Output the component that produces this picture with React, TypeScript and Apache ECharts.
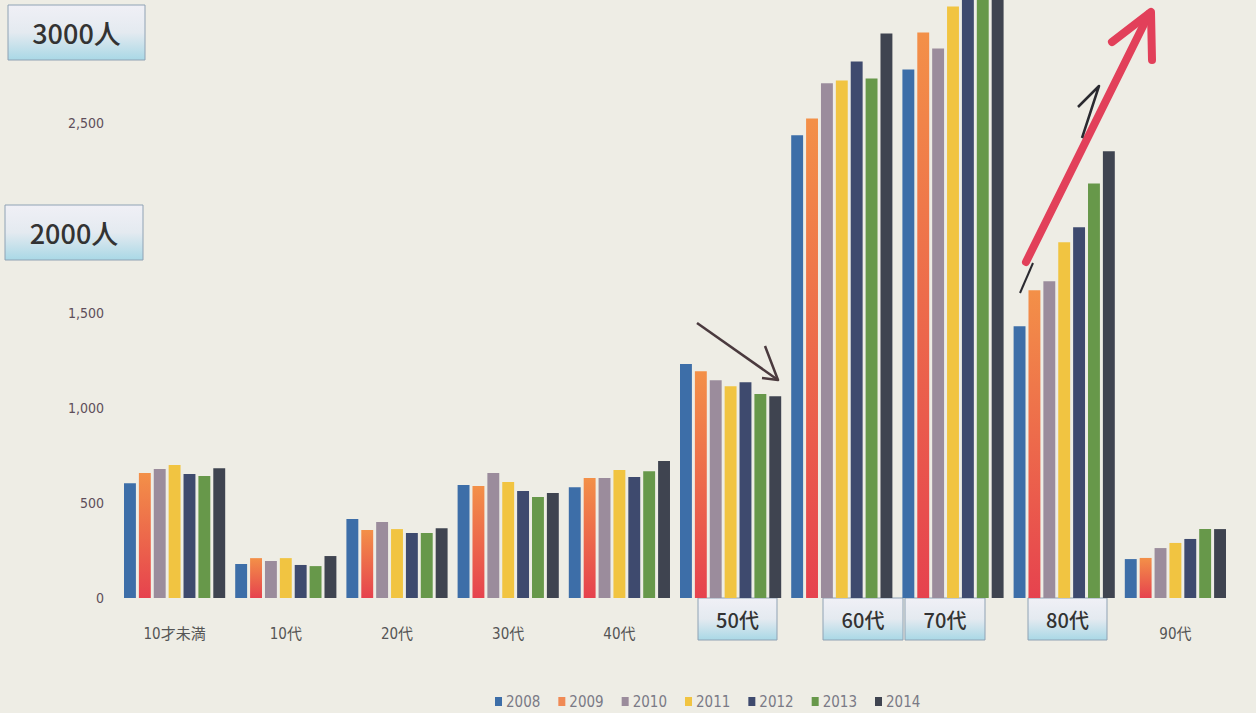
import React, { useEffect, useRef } from "react";
import * as echarts from "echarts";

const categories = ["10才未満", "10代", "20代", "30代", "40代", "50代", "60代", "70代", "80代", "90代"];
const years = ["2008", "2009", "2010", "2011", "2012", "2013", "2014"];
const v2008 = [605, 179, 416, 595, 584, 1232, 2437, 2784, 1432, 205];
const v2009 = [658, 210, 358, 590, 632, 1195, 2526, 2979, 1621, 211];
const v2010 = [679, 195, 400, 658, 632, 1147, 2711, 2895, 1668, 263];
const v2011 = [700, 210, 363, 611, 674, 1116, 2726, 3116, 1874, 290];
const v2012 = [653, 174, 342, 563, 637, 1137, 2826, 3260, 1953, 311];
const v2013 = [642, 168, 342, 532, 668, 1074, 2737, 3220, 2184, 363];
const v2014 = [684, 221, 368, 553, 721, 1063, 2974, 3300, 2353, 363];
const seriesValues = [v2008, v2009, v2010, v2011, v2012, v2013, v2014];
const hiddenCats = ["50代", "60代", "70代", "80代"];
const yTicks = [0, 500, 1000, 1500, 2500];

const colors: any[] = [
  "#3d6ea8",
  new echarts.graphic.LinearGradient(0, 0, 0, 1, [
    { offset: 0, color: "#f39048" },
    { offset: 1, color: "#e6424e" },
  ]),
  "#9b8c9c",
  "#f1c441",
  "#3e4a6e",
  "#67984a",
  "#3f4450",
];
const legendColors = ["#3d6ea8", "#f08a55", "#9b8c9c", "#f1c441", "#3e4a6e", "#67984a", "#3f4450"];

const NARROW = '"Liberation Sans Narrow","DejaVu Sans Condensed","Noto Sans CJK JP",sans-serif';
const JP = '"Noto Sans CJK JP","Noto Sans",sans-serif';

function box(x: number, y: number, w: number, h: number, label: string, size: number) {
  return {
    type: "group",
    x,
    y,
    children: [
      {
        type: "rect",
        shape: { x: 0, y: 0, width: w, height: h },
        style: {
          fill: new echarts.graphic.LinearGradient(0, 0, 0, 1, [
            { offset: 0, color: "#f0f0f6" },
            { offset: 0.5, color: "#e4eaf0" },
            { offset: 1, color: "#a9d8e6" },
          ]),
          stroke: "#8fa2b4",
          lineWidth: 1,
        },
      },
      {
        type: "text",
        x: w / 2,
        y: h / 2,
        style: {
          text: label,
          fill: "#333",
          font: `500 ${size}px ${JP}`,
          align: "center",
          verticalAlign: "middle",
        },
      },
    ],
  };
}

export default function App() {
  const ref = useRef<HTMLDivElement>(null);
  useEffect(() => {
    const chart = echarts.init(ref.current!, null, { renderer: "svg" });
    const option: any = {
      animation: false,
      backgroundColor: "#eeede5",
      grid: { left: 119, right: 25, top: 0, bottom: 115 },
      legend: {
        data: years.map((y, i) => ({ name: y, itemStyle: { color: legendColors[i] } })),
        left: 490,
        top: 689,
        icon: "rect",
        itemWidth: 7,
        itemHeight: 9,
        itemGap: 18,
        textStyle: { fontSize: 15, color: "#7a7a86", fontFamily: NARROW, padding: [0, 0, 0, -1] },
      },
      xAxis: {
        type: "category",
        data: categories,
        axisLine: { show: false },
        axisTick: { show: false },
        axisLabel: {
          margin: 28,
          fontSize: 15,
          color: "#555",
          fontFamily: NARROW,
          formatter: (v: string) => (hiddenCats.includes(v) ? "" : v),
        },
      },
      yAxis: {
        type: "value",
        min: 0,
        max: 3150,
        interval: 500,
        splitLine: { show: false },
        axisLine: { show: false },
        axisTick: { show: false },
        axisLabel: {
          margin: 15,
          fontSize: 14,
          color: "#5e4e5a",
          fontFamily: NARROW,
          formatter: (v: number) => (yTicks.includes(v) ? v.toLocaleString("en-US") : ""),
        },
      },
      series: years.map((y, i) => ({
        name: y,
        type: "bar",
        data: seriesValues[i],
        barGap: "25%",
        barCategoryGap: "9%",
        clip: true,
        itemStyle: { color: colors[i] },
      })),
      graphic: [
        box(8, 5, 137, 55, "3000人", 27),
        box(5, 205, 138, 55, "2000人", 27),
        box(698, 598, 79, 42, "50代", 20),
        box(823, 598, 80, 42, "60代", 20),
        box(905, 598, 80, 42, "70代", 20),
        box(1028, 598, 79, 42, "80代", 20),
        {
          type: "polyline",
          shape: { points: [[1026, 262], [1149, 14]] },
          style: { stroke: "#e2405a", lineWidth: 8, lineCap: "round", fill: null },
        },
        {
          type: "polyline",
          shape: { points: [[1112, 42], [1151, 12], [1152, 60]] },
          style: { stroke: "#e2405a", lineWidth: 8, lineCap: "round", lineJoin: "round", fill: null },
        },
        {
          type: "polyline",
          shape: { points: [[1020, 293], [1033, 263]] },
          style: { stroke: "#2a2a30", lineWidth: 2, fill: null },
        },
        {
          type: "polyline",
          shape: { points: [[1078, 107], [1099, 86], [1082, 138]] },
          style: { stroke: "#2a2a30", lineWidth: 2.5, lineJoin: "round", fill: null },
        },
        {
          type: "polyline",
          shape: { points: [[697, 323], [778, 380]] },
          style: { stroke: "#4a3a3e", lineWidth: 2.5, fill: null },
        },
        {
          type: "polyline",
          shape: { points: [[765, 346], [778, 380], [762, 378]] },
          style: { stroke: "#4a3a3e", lineWidth: 2.5, lineJoin: "round", fill: null },
        },
      ],
    };
    chart.setOption(option);
    return () => chart.dispose();
  }, []);
  return (
    <div
      ref={ref}
      style={{ position: "fixed", left: 0, top: 0, width: 1256, height: 713 }}
    />
  );
}
